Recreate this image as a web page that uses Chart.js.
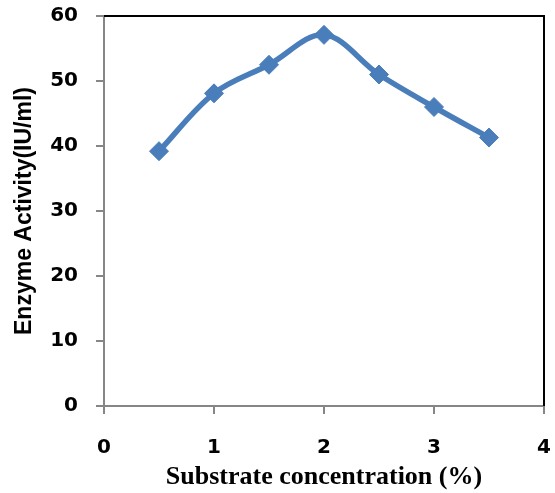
<!DOCTYPE html>
<html>
<head>
<meta charset="utf-8">
<script src="https://cdn.jsdelivr.net/npm/chart.js@4/dist/chart.umd.min.js"></script>
<style>
  body { margin: 0; background: #fff; }
</style>
</head>
<body>
<canvas id="chart" width="555" height="493"></canvas>
<script>
// substrate concentration (%) and enzyme activity (IU/ml)
const concentration = [0.5, 1, 1.5, 2, 2.5, 3, 3.5];
const activity = [39.2, 48.1, 52.5, 57.1, 51.0, 46.0, 41.3];

const xTicks = [0, 1, 2, 3, 4];
const yTicks = [0, 10, 20, 30, 40, 50, 60];

const blue = "#4a7ebb";
const axisGray = "#868686";

// top and right edges of the plot frame are black
const frame = {
  id: "frame",
  afterDraw(chart) {
    const { ctx, chartArea } = chart;
    ctx.save();
    ctx.strokeStyle = "#000";
    ctx.lineWidth = 2;
    ctx.beginPath();
    ctx.moveTo(chartArea.left, chartArea.top);
    ctx.lineTo(chartArea.right, chartArea.top);
    ctx.lineTo(chartArea.right, chartArea.bottom);
    ctx.stroke();
    ctx.restore();
  },
};

const tickFont = { family: "DejaVu Sans", weight: "bold", size: 20 };

// fixed axis sizes, no extra room for overhanging labels
const fixSize = (size) => (axis) => {
  if (axis.isHorizontal()) axis.height = size;
  else axis.width = size;
  axis.paddingTop = 0;
  axis.paddingBottom = 0;
  axis.paddingLeft = 0;
  axis.paddingRight = 0;
};

new Chart(document.getElementById("chart").getContext("2d"), {
  type: "line",
  data: {
    datasets: [
      {
        data: concentration.map((x, i) => ({ x, y: activity[i] })),
        borderColor: blue,
        backgroundColor: blue,
        borderWidth: 5.5,
        tension: 0.35,
        pointStyle: "rectRot",
        pointRadius: 9.5,
        pointBackgroundColor: blue,
        pointBorderColor: blue,
        pointBorderWidth: 1,
        clip: false,
      },
    ],
  },
  options: {
    responsive: false,
    animation: false,
    layout: { padding: { top: 16, right: 11, left: 0, bottom: 0 } },
    plugins: {
      legend: { display: false },
      tooltip: { enabled: false },
    },
    scales: {
      x: {
        type: "linear",
        min: xTicks[0],
        max: xTicks[xTicks.length - 1],
        afterBuildTicks: (axis) => {
          axis.ticks = xTicks.map((v) => ({ value: v }));
        },
        afterFit: fixSize(87),
        border: { display: true, color: axisGray, width: 2 },
        grid: { drawOnChartArea: false, tickLength: 8, color: axisGray, lineWidth: 2 },
        ticks: { color: "#000", font: tickFont, padding: 22, maxRotation: 0 },
        title: {
          display: true,
          text: "Substrate concentration (%)",
          color: "#000",
          font: { family: "Liberation Serif", weight: "bold", size: 26 },
          padding: { top: 0, bottom: 0 },
        },
      },
      y: {
        type: "linear",
        min: yTicks[0],
        max: yTicks[yTicks.length - 1],
        afterBuildTicks: (axis) => {
          axis.ticks = yTicks.map((v) => ({ value: v }));
        },
        afterFit: fixSize(104),
        border: { display: true, color: axisGray, width: 2 },
        grid: { drawOnChartArea: false, tickLength: 8, color: axisGray, lineWidth: 2 },
        ticks: { color: "#000", font: tickFont, padding: 18 },
        title: {
          display: true,
          text: "Enzyme Activity(IU/ml)",
          color: "#000",
          font: { family: "Liberation Sans", weight: "bold", size: 23 },
          padding: { top: 11, bottom: 0 },
        },
      },
    },
  },
  plugins: [frame],
});
</script>
</body>
</html>
